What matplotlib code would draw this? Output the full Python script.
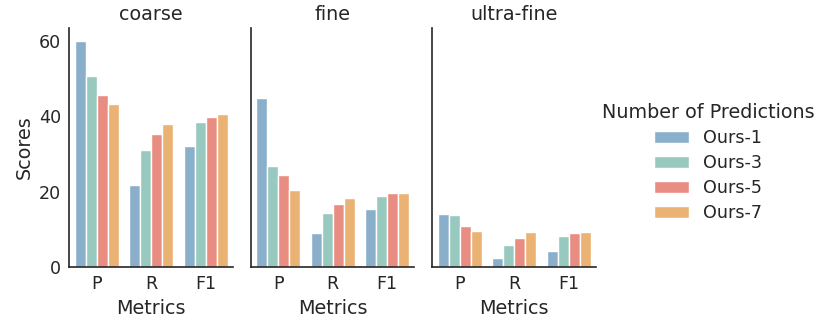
import matplotlib
matplotlib.use('Agg')
import matplotlib.pyplot as plt
import pandas as pd
import seaborn as sns

granularity = ['coarse', 'fine', 'ultra-fine']
metrics = ['P', 'R', 'F1']
methods = ['Ours-1', 'Ours-3', 'Ours-5', 'Ours-7']

# scores[granularity][method] -> [P, R, F1]
coarse = {
    'Ours-1': [59.9, 21.8, 32.0],
    'Ours-3': [50.7, 30.9, 38.5],
    'Ours-5': [45.5, 35.2, 39.7],
    'Ours-7': [43.3, 38.0, 40.5],
}
fine = {
    'Ours-1': [44.9, 9.1, 15.3],
    'Ours-3': [26.9, 14.4, 18.8],
    'Ours-5': [24.3, 16.6, 19.7],
    'Ours-7': [20.5, 18.4, 19.5],
}
ultra_fine = {
    'Ours-1': [14.1, 2.4, 4.1],
    'Ours-3': [13.8, 5.9, 8.3],
    'Ours-5': [10.8, 7.7, 9.0],
    'Ours-7': [9.6, 9.2, 9.3],
}
colors = ['#8AAFCA', '#97C9BF', '#E98D82', '#EAB273']

rows = []
for g, tbl in zip(granularity, [coarse, fine, ultra_fine]):
    for m in methods:
        for met, v in zip(metrics, tbl[m]):
            rows.append({'granularity': g, 'Number of Predictions': m,
                         'Metrics': met, 'Scores': v})
df = pd.DataFrame(rows)

sns.set_style('white')
plt.rcParams['font.family'] = ['DejaVu Sans']

TICK = 12.65
LABEL = 13.8

fig, axes = plt.subplots(1, 3, figsize=(8.17, 3.22), dpi=100, sharey=True)
fig.subplots_adjust(left=0.085, right=0.7295, top=0.913, bottom=0.171,
                    wspace=0.11)

for ax, g in zip(axes, granularity):
    sns.barplot(data=df[df.granularity == g], x='Metrics', y='Scores',
                hue='Number of Predictions', hue_order=methods,
                order=metrics, palette=colors, saturation=1,
                edgecolor='white', linewidth=1, ax=ax)
    ax.set_title(g, fontsize=LABEL)
    ax.legend_.remove()
    ax.set_xlabel('Metrics', fontsize=LABEL)
    ax.tick_params(axis='both', labelsize=TICK, length=0, pad=6)
    ax.set_ylim(0, 63.4)
    for s in ['top', 'right']:
        ax.spines[s].set_visible(False)
    for s in ['left', 'bottom']:
        ax.spines[s].set_color('#262626')
        ax.spines[s].set_linewidth(1.2)
    if g != 'coarse':
        ax.set_ylabel('')
    else:
        ax.set_ylabel('Scores', fontsize=LABEL)
axes[0].set_yticks([0, 20, 40, 60])

handles, labels = axes[0].get_legend_handles_labels()
leg = fig.legend(handles, labels, title='Number of Predictions',
                 loc='center left', bbox_to_anchor=(0.717, 0.494),
                 frameon=False, fontsize=TICK, title_fontsize=LABEL,
                 labelspacing=0.4)

plt.savefig('out.png', dpi=100)
